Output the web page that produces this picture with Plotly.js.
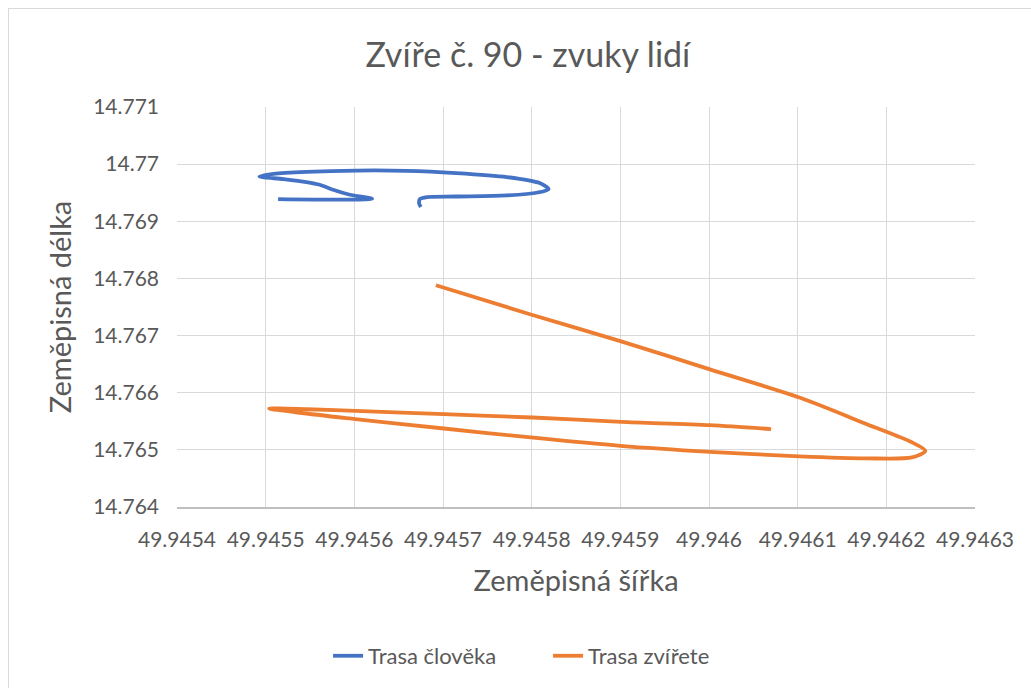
<!DOCTYPE html>
<html>
<head>
<meta charset="utf-8">
<script src="https://cdn.plot.ly/plotly-3.0.1.min.js"></script>
<style>
html,body{margin:0;padding:0;background:#fff;overflow:hidden;}
#frame{position:absolute;left:8px;top:8px;width:1100px;height:800px;border:1px solid #d9d9d9;box-sizing:border-box;pointer-events:none;z-index:5;}
#chart{position:absolute;left:0;top:0;width:1031px;height:688px;}
</style>
</head>
<body>
<div id="chart"></div>
<div id="frame"></div>
<script>
// Trasa člověka (human track)
const humanLat = [49.945514, 49.945620, 49.945595, 49.945576, 49.945561, 49.945546, 49.945520, 49.945493,
  49.945509, 49.945546, 49.945603, 49.945659, 49.945715, 49.945772, 49.945809, 49.945819,
  49.945807, 49.945772, 49.945715, 49.945682, 49.945674, 49.945673, 49.945675];
const humanLon = [14.769389, 14.769394, 14.769464, 14.769551, 14.769639, 14.769686, 14.769738, 14.769783,
  14.769830, 14.769865, 14.769888, 14.769883, 14.769843, 14.769773, 14.769668, 14.769563,
  14.769504, 14.769452, 14.769434, 14.769424, 14.769389, 14.769319, 14.769249];

// Trasa zvířete (animal track)
const animalLat = [49.945692, 49.945799, 49.945900, 49.946001, 49.946102, 49.946178, 49.946229, 49.946244,
  49.946229, 49.946178, 49.946102, 49.946001, 49.945900, 49.945799, 49.945701, 49.945601,
  49.945504, 49.945547, 49.945601, 49.945701, 49.945801, 49.945901, 49.946001, 49.946070];
const animalLon = [14.767881, 14.767369, 14.766903, 14.766409, 14.765915, 14.765449, 14.765130, 14.764983,
  14.764868, 14.764851, 14.764886, 14.764966, 14.765071, 14.765217, 14.765374, 14.765537,
  14.765723, 14.765711, 14.765681, 14.765624, 14.765566, 14.765489, 14.765432, 14.765362];

const xTickVals = [49.9454, 49.9455, 49.9456, 49.9457, 49.9458, 49.9459, 49.946, 49.9461, 49.9462, 49.9463];
const xTickText = ["49.9454", "49.9455", "49.9456", "49.9457", "49.9458", "49.9459", "49.946", "49.9461", "49.9462", "49.9463"];
const yTickVals = [14.764, 14.765, 14.766, 14.767, 14.768, 14.769, 14.77, 14.771];
const yTickText = ["14.764", "14.765", "14.766", "14.767", "14.768", "14.769", "14.77", "14.771"];

const FONT = "Lato, 'Noto Sans', sans-serif";
const GREY = "#595959";

const traces = [
  {x: humanLat, y: humanLon, name: "Trasa člověka", type: "scatter", mode: "lines",
   line: {color: "#4472C4", width: 3.8, shape: "spline", smoothing: 0.8}},
  {x: animalLat, y: animalLon, name: "Trasa zvířete", type: "scatter", mode: "lines",
   line: {color: "#ED7D31", width: 3.8, shape: "spline", smoothing: 0.8}}
];

const layout = {
  width: 1031, height: 688,
  margin: {l: 177, r: 56, t: 107, b: 180},
  paper_bgcolor: "#fff", plot_bgcolor: "#fff",
  font: {family: FONT, color: GREY, size: 21},
  title: {text: "Zvíře č. 90 - zvuky lidí", font: {family: FONT, size: 34, color: GREY},
          x: 0.512, xanchor: "center", y: 0.92, yanchor: "middle"},
  xaxis: {
    range: [49.9454, 49.9463], tickvals: xTickVals, ticktext: xTickText,
    showgrid: true, gridcolor: "#d9d9d9", gridwidth: 1,
    showline: true, linecolor: "#bfbfbf", linewidth: 1.5,
    zeroline: false, ticks: "", ticklabelstandoff: 13,
    tickfont: {family: FONT, size: 21, color: GREY},
    title: {text: "Zeměpisná šířka", font: {family: FONT, size: 29, color: GREY}, standoff: 21}
  },
  yaxis: {
    range: [14.764, 14.771], tickvals: yTickVals, ticktext: yTickText,
    showgrid: true, gridcolor: "#d9d9d9", gridwidth: 1,
    showline: false, zeroline: false, ticks: "", ticklabelstandoff: 17,
    tickfont: {family: FONT, size: 21, color: GREY},
    title: {text: "Zeměpisná délka", font: {family: FONT, size: 29, color: GREY}, standoff: 12}
  },
  showlegend: true,
  legend: {orientation: "h", x: 0.465, xanchor: "center", y: -0.369, yanchor: "middle",
           font: {family: FONT, size: 22, color: GREY}, traceorder: "normal",
           entrywidth: 175, entrywidthmode: "pixels"}
};

Plotly.newPlot("chart", traces, layout, {displayModeBar: false, staticPlot: true});
</script>
</body>
</html>
